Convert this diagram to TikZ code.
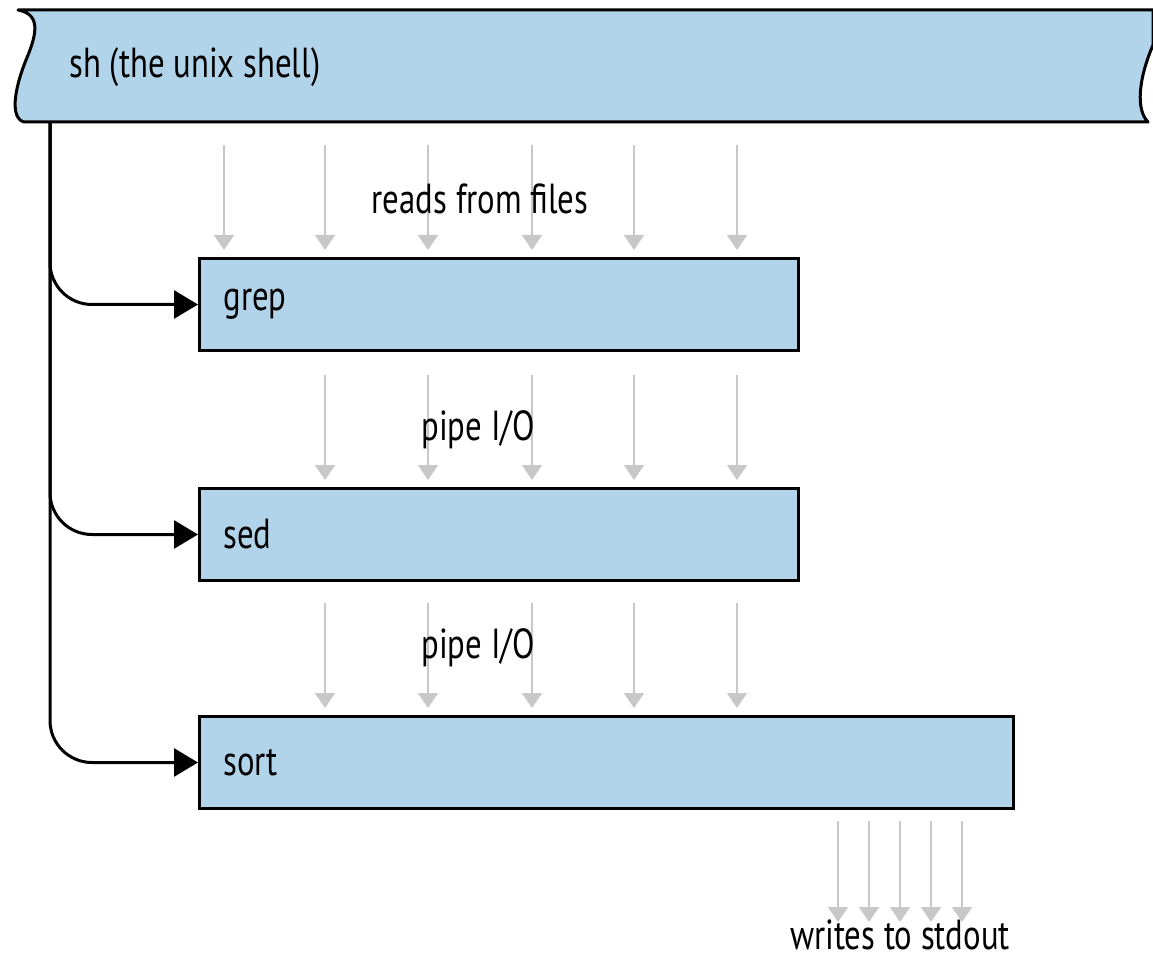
\documentclass[tikz,border=0pt]{standalone}
\usepackage{fontspec}
\setmainfont[FakeStretch=0.78]{PT Sans}
\usetikzlibrary{positioning,arrows.meta}
\definecolor{cbox}{RGB}{178,212,234}
\definecolor{cflow}{RGB}{200,200,200}

\begin{document}
\begin{tikzpicture}[
    x=1pt, y=-1pt,
    proc/.style={draw, fill=cbox, line width=3pt, anchor=north west, minimum height=92pt,
                 inner xsep=24pt, align=left, font=\fontsize{42}{48}\selectfont},
    flow/.style={draw=cflow, line width=2pt, -{Triangle[length=15pt,width=20pt]}, shorten >=7pt},
    spawn/.style={draw, line width=3pt, rounded corners=42pt, -{Triangle[length=24pt,width=28pt]}},
    lbl/.style={font=\fontsize{42}{48}\selectfont}
  ]
  \useasboundingbox (0,0) rectangle (1153,965);

  % the shell banner
  \draw[fill=cbox, line width=3pt, line join=round]
    (18,10) -- (1153,10) -- (1153,45) .. controls (1138,80) and (1136,110) .. (1148,122)
    -- (24,122) .. controls (10,118) and (14,90) .. (26,60)
    .. controls (38,32) and (40,14) .. (18,10) -- cycle;
  \node[lbl, anchor=west] (shell) at (66,67) {sh (the unix shell)};
  \coordinate (trunk) at (50,122);

  \node[proc, text width=551pt] (grep) at (198,257) {grep};
  \node[proc, text width=551pt] (sed) at (198,487) {sed};
  \node[proc, text width=766pt] (sort) at (198,715) {sort};

  \draw[spawn] (trunk) |- (grep.west);
  \draw[spawn] (trunk) |- (sed.west);
  \draw[spawn] (trunk) |- (sort.west);

  \foreach \x in {224,325,428,532,634,737}
    \draw[flow] (\x,145) -- (\x,0 |- grep.north);
  \foreach \x in {325,428,532,634,737} {
    \draw[flow] (\x,375) -- (\x,0 |- sed.north);
    \draw[flow] (\x,603) -- (\x,0 |- sort.north);
  }
  \foreach \x in {838,869,900,931,962}
    \coordinate (out\x) at (\x,922);
  \foreach \x in {838,869,900,931,962}
    \draw[flow, shorten >=0pt, shorten <=11pt] (\x,0 |- sort.south) -- (out\x);

  \node[lbl] (reads) at (480,199) {reads from files};
  \node[lbl] (pipe1) at (478,430) {pipe I/O};
  \node[lbl] (pipe2) at (478,648) {pipe I/O};
  \node[lbl] (stdout) at (900,935) {writes to stdout};
\end{tikzpicture}
\end{document}
